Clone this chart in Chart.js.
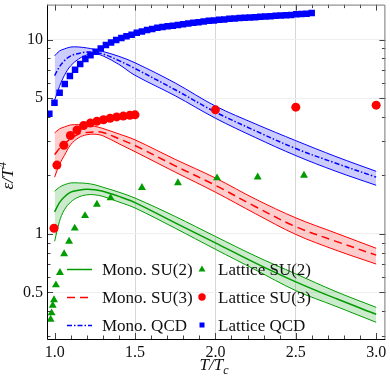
<!DOCTYPE html>
<html>
<head>
<meta charset="utf-8">
<script src="https://cdn.jsdelivr.net/npm/chart.js@4.4.1/dist/chart.umd.min.js"></script>
<style>
  html, body { margin: 0; padding: 0; background: #fff; }
</style>
</head>
<body>
<canvas id="chart" width="390" height="380"></canvas>
<script>
// ---- data ----
const bandT = [1.0, 1.03, 1.06, 1.1, 1.15, 1.2, 1.25, 1.3, 1.4, 1.5, 1.75, 2.0, 2.25, 2.5, 2.75, 3.0];

const su2Hi  = [1.66, 1.74, 1.79, 1.83, 1.83, 1.82, 1.79, 1.74, 1.64, 1.53, 1.23, 0.971, 0.769, 0.623, 0.505, 0.419];
const su2Mid = [1.30, 1.45, 1.55, 1.64, 1.68, 1.70, 1.69, 1.66, 1.56, 1.45, 1.14, 0.900, 0.708, 0.567, 0.465, 0.386];
const su2Lo  = [0.916, 1.16, 1.33, 1.46, 1.55, 1.59, 1.59, 1.56, 1.46, 1.36, 1.07, 0.834, 0.653, 0.511, 0.424, 0.351];

const su3Hi  = [3.31, 3.47, 3.55, 3.64, 3.65, 3.64, 3.58, 3.49, 3.27, 3.05, 2.42, 1.94, 1.51, 1.21, 1.01, 0.844];
const su3Mid = [2.56, 2.75, 2.90, 3.09, 3.27, 3.33, 3.35, 3.33, 3.09, 2.85, 2.24, 1.78, 1.38, 1.09, 0.916, 0.778];
const su3Lo  = [1.96, 2.28, 2.53, 2.88, 3.13, 3.24, 3.26, 3.20, 2.91, 2.65, 2.08, 1.64, 1.27, 0.994, 0.825, 0.700];

const qcdHi  = [8.25, 8.74, 8.95, 9.16, 9.16, 9.06, 8.90, 8.69, 8.20, 7.60, 5.98, 4.55, 3.68, 3.02, 2.50, 2.10];
const qcdMid = [6.53, 7.25, 7.78, 8.25, 8.49, 8.64, 8.59, 8.44, 7.80, 7.10, 5.52, 4.24, 3.39, 2.75, 2.31, 1.96];
const qcdLo  = [4.87, 5.74, 6.53, 7.34, 7.96, 8.34, 8.44, 8.25, 7.45, 6.55, 5.14, 3.94, 3.13, 2.53, 2.10, 1.78];

const su2LatT = [0.975, 0.981, 0.988, 0.996, 1.008, 1.033, 1.059, 1.090, 1.125, 1.189, 1.263, 1.348, 1.543, 1.767, 2.01, 2.263, 2.551];
const su2LatE = [0.363, 0.392, 0.429, 0.458, 0.546, 0.632, 0.790, 0.916, 1.07, 1.24, 1.42, 1.53, 1.73, 1.83, 1.94, 1.96, 2.00];

const su3LatT = [0.996, 1.014, 1.057, 1.098, 1.139, 1.180, 1.222, 1.263, 1.304, 1.345, 1.386, 1.427, 1.468, 1.50, 2.0, 2.5, 3.0];
const su3LatE = [1.07, 2.26, 2.86, 3.21, 3.43, 3.61, 3.72, 3.80, 3.87, 3.94, 4.00, 4.04, 4.08, 4.10, 4.35, 4.49, 4.60];

const qcdLatT = [0.967, 0.999, 1.031, 1.063, 1.095, 1.127, 1.159, 1.191, 1.223, 1.255, 1.287, 1.319, 1.351,
  1.383, 1.415, 1.447, 1.479, 1.511, 1.543, 1.575, 1.607, 1.639, 1.671, 1.703, 1.735, 1.767, 1.799,
  1.831, 1.863, 1.895, 1.927, 1.959, 1.991, 2.023, 2.055, 2.087, 2.119, 2.151, 2.183, 2.215, 2.247,
  2.279, 2.311, 2.343, 2.375, 2.407, 2.439, 2.471, 2.503, 2.535, 2.567, 2.599];
const qcdLatE = [4.16, 4.73, 5.32, 5.91, 6.50, 7.00, 7.48, 7.94, 8.31, 8.67, 9.00, 9.37, 9.67,
  9.94, 10.2, 10.4, 10.6, 10.85, 11.0, 11.2, 11.35, 11.5, 11.6, 11.7, 11.8, 11.9, 12.0,
  12.1, 12.2, 12.3, 12.4, 12.5, 12.55, 12.65, 12.7, 12.8, 12.85, 12.9, 12.95, 13.0, 13.05,
  13.1, 13.15, 13.2, 13.25, 13.3, 13.35, 13.4, 13.5, 13.55, 13.6, 13.7];

const xTicks = [1.0, 1.5, 2.0, 2.5, 3.0];
const yTicks = [0.5, 1, 5, 10];
const yTickLabels = ['0.5', '1', '5', '10'];
const yMinor = [0.3, 0.4, 0.6, 0.7, 0.8, 0.9, 2, 3, 4, 6, 7, 8, 9];

const GREEN = '#009c00', RED = '#ff0000', BLUE = '#0000ff';
const SERIF = '"Liberation Serif", "Times New Roman", serif';

const pts = (xs, ys) => xs.map((x, i) => ({ x: x, y: ys[i] }));

function band(hi, mid, lo, color, fillColor, dash) {
  const base = { borderColor: color, pointRadius: 0, pointHoverRadius: 0, tension: 0.35, order: 1 };
  return [
    { ...base, data: pts(bandT, hi), borderWidth: 1, fill: false },
    { ...base, data: pts(bandT, lo), borderWidth: 1, fill: '-1', backgroundColor: fillColor },
    { ...base, data: pts(bandT, mid), borderWidth: 1.5, borderDash: dash, fill: false }
  ];
}

function lattice(xs, ys, color, style, r) {
  return { data: pts(xs, ys), showLine: false, pointStyle: style, pointRadius: r, pointHoverRadius: r,
    backgroundColor: color, borderColor: color, borderWidth: 0, order: 0 };
}

// ---- frame with inward ticks, legend and axis titles ----
const frame = {
  id: 'frame',
  afterDraw(chart) {
    const { ctx, chartArea: a, scales: { x, y } } = chart;
    ctx.save();
    ctx.lineWidth = 1;
    ctx.strokeStyle = '#444';
    ctx.beginPath();
    const xMinorTicks = [];
    for (let t = 10; t <= 30; t++) xMinorTicks.push(t / 10);
    xMinorTicks.forEach(t => {
      const px = Math.round(x.getPixelForValue(t)) + 0.5;
      const len = xTicks.includes(t) ? 6 : 3.5;
      ctx.moveTo(px, a.bottom); ctx.lineTo(px, a.bottom - len);
      ctx.moveTo(px, a.top); ctx.lineTo(px, a.top + len);
    });
    yTicks.concat(yMinor).forEach(v => {
      const py = Math.round(y.getPixelForValue(v)) + 0.5;
      const len = yTicks.includes(v) ? 6 : 3.5;
      ctx.moveTo(a.left, py); ctx.lineTo(a.left + len, py);
      ctx.moveTo(a.right, py); ctx.lineTo(a.right - len, py);
    });
    ctx.stroke();

    ctx.strokeStyle = '#000';
    ctx.beginPath();
    ctx.moveTo(a.left + 0.5, a.top); ctx.lineTo(a.left + 0.5, a.bottom + 0.5);
    ctx.lineTo(a.right, a.bottom + 0.5);
    ctx.stroke();
    ctx.strokeStyle = '#777';
    ctx.beginPath();
    ctx.moveTo(a.left, a.top + 0.5); ctx.lineTo(a.right - 0.5, a.top + 0.5);
    ctx.lineTo(a.right - 0.5, a.bottom);
    ctx.stroke();

    // legend
    const rows = [
      { y: 269, color: GREEN, dash: [], label: 'Mono. SU(2)', mark: 'tri', mlabel: 'Lattice SU(2)' },
      { y: 297, color: RED, dash: [8, 5], label: 'Mono. SU(3)', mark: 'circle', mlabel: 'Lattice SU(3)' },
      { y: 325, color: BLUE, dash: [5, 2, 1.5, 2], label: 'Mono. QCD', mark: 'square', mlabel: 'Lattice QCD' }
    ];
    ctx.font = '17px ' + SERIF;
    ctx.textBaseline = 'alphabetic';
    ctx.textAlign = 'left';
    rows.forEach(r => {
      ctx.strokeStyle = r.color;
      ctx.lineWidth = 1.5;
      ctx.setLineDash(r.dash);
      ctx.beginPath();
      ctx.moveTo(67, r.y + 0.5); ctx.lineTo(92, r.y + 0.5);
      ctx.stroke();
      ctx.setLineDash([]);
      ctx.fillStyle = r.color;
      ctx.beginPath();
      if (r.mark === 'tri') {
        ctx.moveTo(202, r.y - 3.5); ctx.lineTo(205.5, r.y + 2.5); ctx.lineTo(198.5, r.y + 2.5);
      } else if (r.mark === 'circle') {
        ctx.arc(202, r.y, 3.7, 0, Math.PI * 2);
      } else {
        ctx.rect(199.5, r.y - 2.5, 5, 5);
      }
      ctx.fill();
      ctx.fillStyle = '#111';
      ctx.fillText(r.label, 102, r.y + 6);
      ctx.fillText(r.mlabel, 218, r.y + 6);
    });

    // axis titles
    ctx.fillStyle = '#111';
    ctx.font = 'italic 17px ' + SERIF;
    const w1 = ctx.measureText('T/T').width;
    ctx.font = 'italic 12px ' + SERIF;
    const w2 = ctx.measureText('c').width;
    let x0 = 214 - (w1 + w2) / 2;
    ctx.font = 'italic 17px ' + SERIF;
    ctx.fillText('T/T', x0, 370);
    ctx.font = 'italic 12px ' + SERIF;
    ctx.fillText('c', x0 + w1, 374);

    ctx.translate(13, 176);
    ctx.rotate(-Math.PI / 2);
    ctx.font = 'italic 17px ' + SERIF;
    const v1 = ctx.measureText('\u03b5/T').width;
    ctx.font = 'italic 12px ' + SERIF;
    const v2 = ctx.measureText('4').width;
    x0 = -(v1 + v2) / 2;
    ctx.font = 'italic 17px ' + SERIF;
    ctx.fillText('\u03b5/T', x0, 0);
    ctx.font = 'italic 12px ' + SERIF;
    ctx.fillText('4', x0 + v1 + 0.5, -7);
    ctx.restore();
  }
};

new Chart(document.getElementById('chart'), {
  type: 'line',
  data: {
    datasets: [
      lattice(su2LatT, su2LatE, GREEN, 'triangle', 4.6),
      lattice(su3LatT, su3LatE, RED, 'circle', 4.5),
      lattice(qcdLatT, qcdLatE, BLUE, 'rect', 4.6),
      ...band(su2Hi, su2Mid, su2Lo, GREEN, 'rgba(0,156,0,0.2)', []),
      ...band(su3Hi, su3Mid, su3Lo, RED, 'rgba(255,0,0,0.2)', [8, 5]),
      ...band(qcdHi, qcdMid, qcdLo, BLUE, 'rgba(0,0,255,0.2)', [5, 2, 1.5, 2])
    ]
  },
  options: {
    responsive: false,
    animation: false,
    events: [],
    layout: { padding: { top: 1, right: 2, left: 0, bottom: 0 } },
    plugins: {
      legend: { display: false },
      tooltip: { enabled: false },
      filler: { drawTime: 'beforeDatasetsDraw' }
    },
    scales: {
      x: {
        type: 'linear',
        min: 0.9525,
        max: 3.0574,
        border: { display: false },
        grid: {
          drawTicks: false,
          color: c => (c.tick && [1.5, 2, 2.5].includes(c.tick.value)) ? '#d6d6d6' : 'rgba(0,0,0,0)'
        },
        ticks: {
          padding: 4,
          color: '#111',
          font: { family: SERIF, size: 16 },
          callback: v => v.toFixed(1)
        },
        afterBuildTicks: s => { s.ticks = xTicks.map(v => ({ value: v })); },
        afterFit: s => { s.height = 41; s.paddingLeft = 0; s.paddingRight = 0; }
      },
      y: {
        type: 'logarithmic',
        min: 0.288,
        max: 15.14,
        border: { display: false },
        grid: { drawTicks: false, color: '#efefef' },
        ticks: {
          padding: 4,
          color: '#111',
          font: { family: SERIF, size: 16 },
          callback: v => yTickLabels[yTicks.indexOf(v)]
        },
        afterBuildTicks: s => { s.ticks = yTicks.map(v => ({ value: v })); },
        afterFit: s => { s.width = 47; s.paddingTop = 0; s.paddingBottom = 0; }
      }
    }
  },
  plugins: [frame]
});
</script>
</body>
</html>
